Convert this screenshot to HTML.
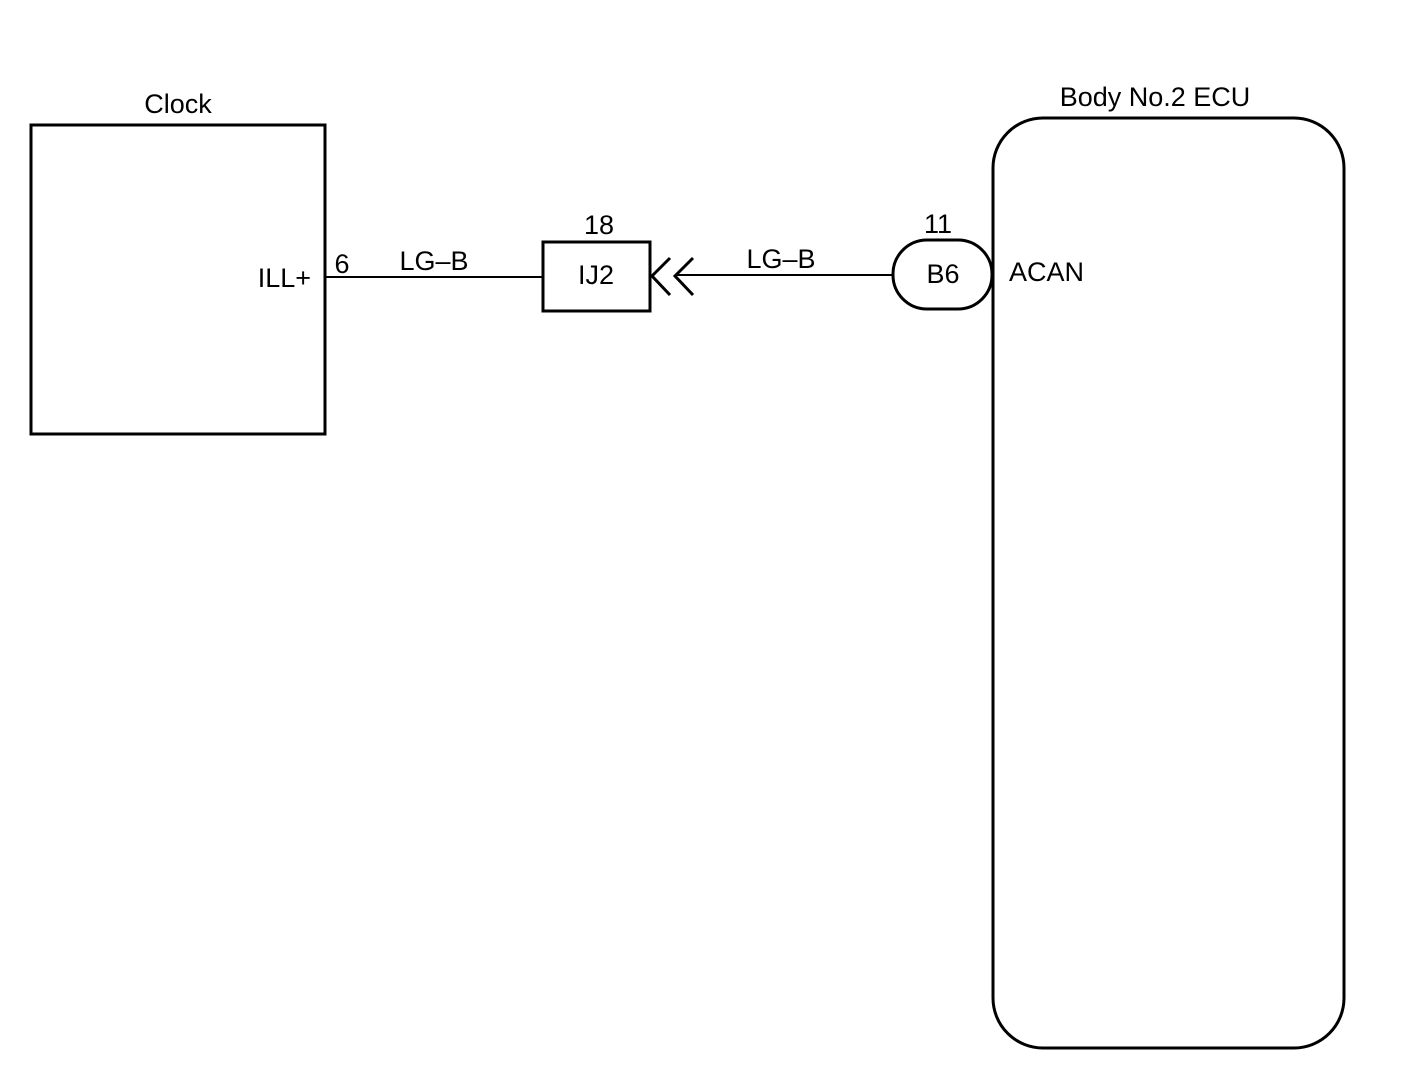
<!DOCTYPE html>
<html><head><meta charset="utf-8"><style>
html,body{margin:0;padding:0;background:#fff;}
svg{display:block;}
text{font-family:"Liberation Sans",sans-serif;font-size:27px;fill:#000;}
</style></head><body>
<svg width="1408" height="1070" viewBox="0 0 1408 1070">
<rect x="31" y="125" width="294" height="309" fill="none" stroke="#000" stroke-width="3"/>
<text x="178" y="113" text-anchor="middle">Clock</text>
<text x="311" y="287" text-anchor="end">ILL+</text>
<text x="342" y="273" text-anchor="middle">6</text>
<line x1="325" y1="277" x2="543" y2="277" stroke="#000" stroke-width="2"/>
<text x="434" y="270" text-anchor="middle">LG–B</text>
<rect x="543" y="242" width="107" height="69" fill="none" stroke="#000" stroke-width="3"/>
<text x="596" y="284" text-anchor="middle">IJ2</text>
<text x="599" y="234" text-anchor="middle">18</text>
<polyline points="670,258 652,276 670,295" fill="none" stroke="#000" stroke-width="3"/>
<polyline points="693,258 675,276 693,295" fill="none" stroke="#000" stroke-width="3"/>
<line x1="676" y1="275" x2="893" y2="275" stroke="#000" stroke-width="2"/>
<text x="781" y="268" text-anchor="middle">LG–B</text>
<rect x="893" y="240" width="99" height="69" rx="34" ry="34" fill="none" stroke="#000" stroke-width="3"/>
<text x="943" y="283" text-anchor="middle">B6</text>
<text x="938" y="233" text-anchor="middle">11</text>
<rect x="993" y="118" width="351" height="930" rx="50" ry="50" fill="none" stroke="#000" stroke-width="3"/>
<text x="1155" y="106" text-anchor="middle">Body No.2 ECU</text>
<text x="1009" y="281">ACAN</text>
</svg>
</body></html>
